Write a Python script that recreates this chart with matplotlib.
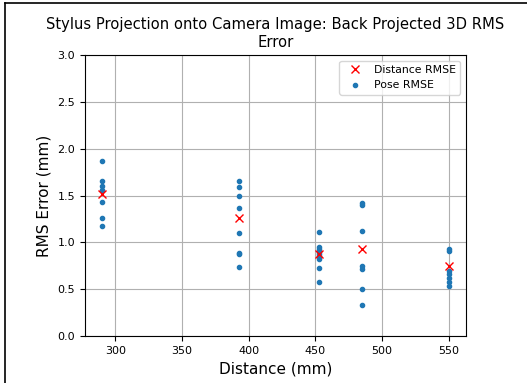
import matplotlib.pyplot as plt
from matplotlib.lines import Line2D

distances = [290, 393, 453, 485, 550]  # mm
distance_rmse = [1.52, 1.26, 0.87, 0.93, 0.75]
pose_rmse = [
    [1.87, 1.66, 1.60, 1.56, 1.43, 1.26, 1.17],
    [1.66, 1.59, 1.50, 1.37, 1.10, 0.89, 0.87, 0.74],
    [1.11, 0.95, 0.93, 0.90, 0.88, 0.85, 0.82, 0.73, 0.58],
    [1.42, 1.40, 1.12, 0.75, 0.72, 0.50, 0.33],
    [0.93, 0.91, 0.69, 0.66, 0.62, 0.58, 0.53],
]


def main():
    fig = plt.figure(figsize=(5.27, 3.83), dpi=100)
    ax = fig.add_axes([0.161, 0.123, 0.723, 0.733])

    # flatten pose points to x/y pairs
    px, py = [], []
    for d, vals in zip(distances, pose_rmse):
        px += [d] * len(vals)
        py += vals

    ax.plot(distances, distance_rmse, 'x', color='red', label='Distance RMSE', zorder=3)
    ax.plot(px, py, '.', color='tab:blue', label='Pose RMSE')

    ax.set_ylim(0, 3.0)
    ax.set_yticks([0.0, 0.5, 1.0, 1.5, 2.0, 2.5, 3.0])
    ax.set_xticks([300, 350, 400, 450, 500, 550])
    ax.tick_params(labelsize=8)
    ax.grid(True)
    ax.set_axisbelow(True)
    ax.set_title('Stylus Projection onto Camera Image: Back Projected 3D RMS\nError',
                 fontsize=10.6)
    ax.set_xlabel('Distance (mm)', fontsize=11)
    ax.set_ylabel('RMS Error (mm)', fontsize=11)
    ax.legend(loc='upper right', fontsize=7.8)

    # frame lines seen at left/top of the screenshot
    fig.add_artist(Line2D([5 / 527, 5 / 527], [0, 1 - 3 / 383], color='black', lw=1.2))
    fig.add_artist(Line2D([5 / 527, 1], [1 - 3 / 383, 1 - 3 / 383], color='black', lw=1.2))

    fig.savefig('out.png', dpi=100)


main()
